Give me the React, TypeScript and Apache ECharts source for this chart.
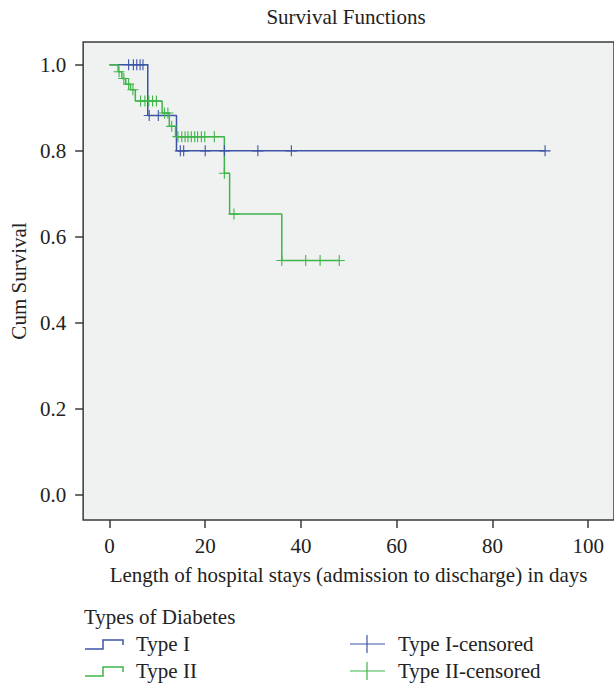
import React, { useEffect, useRef } from "react";
import * as echarts from "echarts";

const titleText = "Survival Functions";
const xAxisTitle = "Length of hospital stays (admission to discharge) in days";
const yAxisTitle = "Cum Survival";
const legendTitle = "Types of Diabetes";
const seriesNames = ["Type I", "Type II", "Type I-censored", "Type II-censored"];

const xTicks = [0, 20, 40, 60, 80, 100];
const yTicks = [0, 0.2, 0.4, 0.6, 0.8, 1.0];

// Kaplan-Meier steps (time, survival after)
const typeIDays = [0, 8, 14, 91];
const typeISurv = [1.0, 0.882, 0.8, 0.8];
const typeICensDays = [4, 5, 5.7, 6.4, 7, 8.3, 10.2, 14.8, 15.5, 20, 24, 31, 38, 91];
const typeICensSurv = [1, 1, 1, 1, 1, 0.882, 0.882, 0.8, 0.8, 0.8, 0.8, 0.8, 0.8, 0.8];

const typeIIDays = [0, 1.8, 2.6, 3.4, 4.4, 5.4, 11, 12.5, 13.8, 24, 25.1, 36, 48];
const typeIISurv = [1, 0.984, 0.968, 0.955, 0.942, 0.916, 0.888, 0.857, 0.833, 0.748, 0.653, 0.545, 0.545];
const typeIICensDays = [2, 3, 4, 4.9, 6.5, 7.4, 8.2, 9, 9.8, 11.5, 12.2, 13, 14.3, 15.1, 15.8, 16.4, 17.1, 17.8, 18.4, 19.2, 19.9, 21.9, 24, 26, 36, 41, 44, 48];
const typeIICensSurv = [0.984, 0.968, 0.955, 0.942, 0.916, 0.916, 0.916, 0.916, 0.916, 0.888, 0.888, 0.857, 0.833, 0.833, 0.833, 0.833, 0.833, 0.833, 0.833, 0.833, 0.833, 0.833, 0.748, 0.653, 0.545, 0.545, 0.545, 0.545];

const BLUE = "#3d55a6";
const GREEN = "#3fb54a";
const FONT = "Liberation Serif";
const TXT = "#222";
const FS = 21;

const plusPath = "path://M4.5,0 H5.5 V4.5 H10 V5.5 H5.5 V10 H4.5 V5.5 H0 V4.5 H4.5 Z";

const zip = (a: number[], b: number[]) => a.map((v, i) => [v, b[i]]);

export default function App() {
  const ref = useRef<HTMLDivElement>(null);
  useEffect(() => {
    if (!ref.current) return;
    const chart = echarts.init(ref.current, null, { renderer: "svg" });
    const legendY1 = 644;
    const legendY2 = 671;
    const legendText = (x: number, y: number, text: string) => ({
      type: "text",
      x,
      y,
      style: { text, fontFamily: FONT, fontSize: FS, fill: TXT, textAlign: "left", textVerticalAlign: "middle" },
    });
    chart.setOption({
      animation: false,
      backgroundColor: "#ffffff",
      grid: {
        left: 83,
        top: 42,
        right: -2,
        bottom: 684 - 520,
        show: true,
        backgroundColor: "#f0f1f1",
        borderColor: "#3a3a3a",
        borderWidth: 1.5,
      },
      xAxis: {
        type: "value",
        min: -5.5,
        max: 105.4,
        name: xAxisTitle,
        nameLocation: "middle",
        nameGap: 44,
        nameTextStyle: { fontFamily: FONT, fontSize: FS, color: TXT },
        axisLine: { show: false, onZero: false },
        splitLine: { show: false },
        axisTick: {
          show: true,
          customValues: xTicks,
          length: 8,
          lineStyle: { color: "#3a3a3a", width: 1.5 },
        },
        axisLabel: {
          customValues: xTicks,
          margin: 15,
          fontFamily: FONT,
          fontSize: FS,
          color: TXT,
        },
      },
      yAxis: {
        type: "value",
        min: -0.058,
        max: 1.053,
        name: yAxisTitle,
        nameLocation: "middle",
        nameGap: 50,
        nameRotate: 90,
        nameTextStyle: { fontFamily: FONT, fontSize: FS, color: TXT },
        axisLine: { show: false, onZero: false },
        splitLine: { show: false },
        axisTick: {
          show: true,
          customValues: yTicks,
          length: 8,
          lineStyle: { color: "#3a3a3a", width: 1.5 },
        },
        axisLabel: {
          customValues: yTicks,
          margin: 17,
          fontFamily: FONT,
          fontSize: FS,
          color: TXT,
          formatter: (v: number) => v.toFixed(1),
        },
      },
      series: [
        {
          name: seriesNames[0],
          type: "line",
          step: "end",
          data: zip(typeIDays, typeISurv),
          showSymbol: false,
          lineStyle: { color: BLUE, width: 1.5 },
          itemStyle: { color: BLUE },
          z: 2,
        },
        {
          name: seriesNames[1],
          type: "line",
          step: "end",
          data: zip(typeIIDays, typeIISurv),
          showSymbol: false,
          lineStyle: { color: GREEN, width: 1.5 },
          itemStyle: { color: GREEN },
          z: 3,
        },
        {
          name: seriesNames[2],
          type: "scatter",
          data: zip(typeICensDays, typeICensSurv),
          symbol: plusPath,
          symbolSize: 11,
          itemStyle: { color: BLUE, opacity: 1 },
          z: 4,
        },
        {
          name: seriesNames[3],
          type: "scatter",
          data: zip(typeIICensDays, typeIICensSurv),
          symbol: plusPath,
          symbolSize: 11,
          itemStyle: { color: GREEN, opacity: 1 },
          z: 5,
        },
      ],
      graphic: [
        {
          type: "text",
          x: 346,
          y: 17,
          style: {
            text: titleText,
            fontFamily: FONT,
            fontSize: FS,
            fill: TXT,
            textAlign: "center",
            textVerticalAlign: "middle",
          },
        },
        legendText(84, 617, legendTitle),
        {
          type: "polyline",
          shape: { points: [[85, legendY1 + 5], [103, legendY1 + 5], [103, legendY1 - 4], [123, legendY1 - 4], [123, legendY1 + 1]] },
          style: { stroke: BLUE, lineWidth: 1.5, fill: null },
        },
        {
          type: "polyline",
          shape: { points: [[85, legendY2 + 5], [103, legendY2 + 5], [103, legendY2 - 4], [123, legendY2 - 4], [123, legendY2 + 1]] },
          style: { stroke: GREEN, lineWidth: 1.5, fill: null },
        },
        legendText(136, legendY1, seriesNames[0]),
        legendText(136, legendY2, seriesNames[1]),
        {
          type: "line",
          shape: { x1: 350, y1: legendY1, x2: 385, y2: legendY1 },
          style: { stroke: BLUE, lineWidth: 1.2 },
        },
        {
          type: "line",
          shape: { x1: 367, y1: legendY1 - 9, x2: 367, y2: legendY1 + 9 },
          style: { stroke: BLUE, lineWidth: 1.2 },
        },
        {
          type: "line",
          shape: { x1: 350, y1: legendY2, x2: 385, y2: legendY2 },
          style: { stroke: GREEN, lineWidth: 1.2 },
        },
        {
          type: "line",
          shape: { x1: 367, y1: legendY2 - 9, x2: 367, y2: legendY2 + 9 },
          style: { stroke: GREEN, lineWidth: 1.2 },
        },
        legendText(398, legendY1, seriesNames[2]),
        legendText(398, legendY2, seriesNames[3]),
      ],
    });
    return () => chart.dispose();
  }, []);
  return (
    <div
      ref={ref}
      style={{ position: "fixed", left: 0, top: 0, width: 614, height: 684 }}
    />
  );
}
